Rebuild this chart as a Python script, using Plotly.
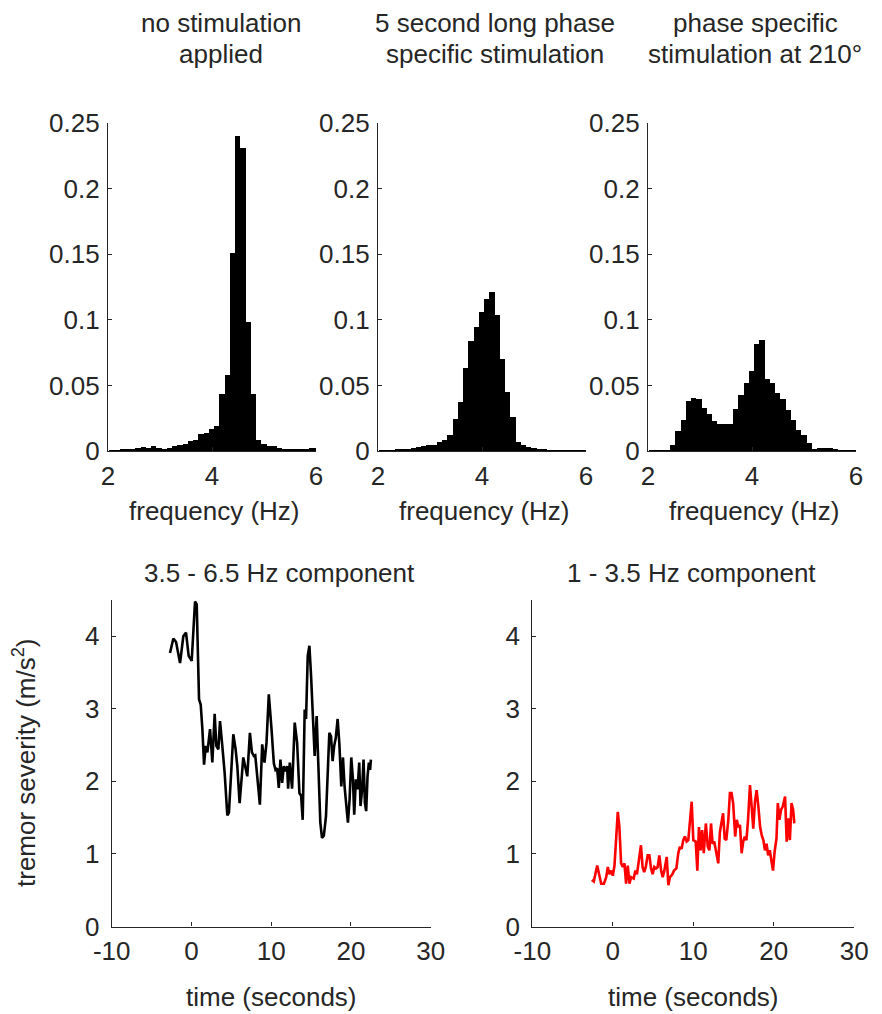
import plotly.graph_objects as go

# ---------------- data ----------------
BIN_START = 2.02
BIN_WIDTH = 0.101

hist_none = [0.0005, 0.0005, 0.001, 0.0013, 0.0015, 0.0023, 0.003, 0.0023, 0.0036, 0.0023,
             0.0018, 0.0023, 0.0038, 0.0048, 0.0056, 0.0074, 0.0087, 0.0132, 0.014, 0.017,
             0.0188, 0.0438, 0.0578, 0.151, 0.240, 0.231, 0.0985, 0.0438, 0.0081, 0.0056,
             0.0036, 0.0036, 0.0025, 0.0018, 0.0013, 0.001, 0.001, 0.0013, 0.0023, 0.0023]

hist_long = [0.0005, 0.0005, 0.0005, 0.0008, 0.001, 0.0015, 0.0025, 0.0028, 0.0036, 0.0043,
             0.0043, 0.0069, 0.0087, 0.012, 0.0247, 0.0374, 0.0629, 0.084, 0.0947, 0.106,
             0.116, 0.121, 0.104, 0.0705, 0.045, 0.026, 0.0069, 0.0048, 0.003, 0.0023,
             0.0013, 0.001, 0.0005, 0.0005, 0.0005, 0.0005, 0.0005, 0.0005, 0.0005, 0.0005]

hist_210 = [0.0003, 0.0003, 0.0003, 0.0003, 0.0048, 0.0153, 0.0239, 0.038, 0.0407, 0.040,
            0.0328, 0.0285, 0.0229, 0.0204, 0.0204, 0.0209, 0.0323, 0.0425, 0.052, 0.061,
            0.0815, 0.0845, 0.0547, 0.052, 0.0443, 0.040, 0.031, 0.0234, 0.0163, 0.012,
            0.0064, 0.0018, 0.0023, 0.0025, 0.0025, 0.0015, 0.0005, 0.0005, 0.0005, 0.0005]

t_high = [-2.69, -2.27, -1.93, -1.43, -1.02, -0.68, -0.35, 0.03, 0.45, 0.66,
          0.95, 1.16, 1.37, 1.58, 1.79, 2.0, 2.33, 2.62, 2.91, 3.12,
          3.37, 3.58, 3.87, 4.16, 4.5, 4.7, 5.25, 5.54, 5.75, 6.04,
          6.5, 6.79, 7.0, 7.33, 7.58, 7.83, 8.0, 8.25, 8.58, 8.87,
          9.16, 9.41, 9.7, 10.04, 10.33, 10.54, 10.75, 10.95, 11.16, 11.37,
          11.58, 11.8, 12.0, 12.12, 12.33, 12.62, 12.75, 12.95, 13.25, 13.54,
          13.75, 13.95, 14.2, 14.37, 14.58, 14.79, 15.0, 15.2, 15.45, 15.7,
          15.95, 16.16, 16.37, 16.6, 16.87, 17.08, 17.29, 17.5, 17.7, 17.9,
          18.1, 18.33, 18.54, 18.79, 19.0, 19.2, 19.41, 19.62, 19.83, 20.04,
          20.25, 20.41, 20.62, 20.83, 21.04, 21.2, 21.4, 21.58, 21.75, 21.91,
          22.08, 22.25, 22.4, 22.5]
v_high = [3.77, 3.97, 3.92, 3.63, 4.0, 4.05, 3.73, 3.66, 4.48, 4.44,
          3.13, 3.06, 2.72, 2.23, 2.49, 2.4, 2.72, 2.26, 2.93, 2.49,
          2.44, 2.83, 2.49, 2.12, 1.53, 1.57, 2.65, 2.44, 2.21, 1.70,
          2.33, 2.16, 2.07, 2.67, 2.40, 2.35, 2.36, 2.07, 1.68, 2.51,
          2.26, 2.53, 3.20, 2.72, 2.25, 2.16, 2.18, 1.91, 2.30, 1.98,
          2.21, 2.14, 2.21, 1.90, 2.26, 1.90, 2.35, 2.81, 2.53, 1.84,
          1.80, 1.47, 2.99, 2.86, 3.73, 3.87, 3.45, 3.04, 2.35, 2.90,
          2.03, 1.43, 1.22, 1.25, 1.52, 2.07, 2.67, 2.62, 2.28, 2.49,
          2.6, 2.86, 2.53, 1.93, 2.33, 1.93, 1.61, 1.43, 1.75, 2.33,
          2.03, 1.54, 2.03, 1.89, 2.26, 1.66, 1.89, 2.30, 1.70, 1.59,
          2.07, 2.26, 2.16, 2.30]

t_low = [-2.61, -2.36, -1.94, -1.66, -1.44, -1.1, -0.82, -0.62, -0.41, -0.2,
         0.0, 0.21, 0.41, 0.62, 0.82, 1.03, 1.24, 1.45, 1.65, 1.86,
         2.07, 2.28, 2.6, 2.8, 3.0, 3.2, 3.5, 3.7, 3.9, 4.1,
         4.33, 4.54, 4.75, 4.95, 5.16, 5.37, 5.57, 5.78, 6.0, 6.2,
         6.4, 6.7, 6.9, 7.1, 7.4, 7.6, 7.9, 8.13, 8.34, 8.55,
         8.75, 8.96, 9.17, 9.38, 9.6, 9.8, 10.0, 10.3, 10.5, 10.7,
         10.9, 11.1, 11.3, 11.56, 11.8, 12.0, 12.2, 12.4, 12.6, 12.8,
         13.1, 13.3, 13.5, 13.7, 13.9, 14.1, 14.35, 14.55, 14.75, 14.95,
         15.2, 15.4, 15.6, 15.8, 16.0, 16.2, 16.4, 16.6, 16.8, 17.04,
         17.25, 17.45, 17.66, 17.87, 18.1, 18.3, 18.5, 18.7, 18.9, 19.1,
         19.3, 19.5, 19.7, 19.9, 20.1, 20.33, 20.5, 20.7, 20.9, 21.1,
         21.4, 21.6, 21.8, 22.0, 22.2, 22.4, 22.55]
v_low = [0.64, 0.62, 0.84, 0.70, 0.59, 0.59, 0.68, 0.82, 0.72, 0.77,
         0.70, 0.84, 1.24, 1.58, 1.37, 0.87, 0.82, 0.87, 0.59, 0.84,
         0.59, 0.68, 0.66, 0.77, 0.72, 0.87, 1.12, 0.82, 0.75, 0.82,
         0.98, 0.98, 0.80, 0.72, 0.82, 0.80, 0.82, 0.98, 0.77, 0.68,
         0.77, 0.96, 0.57, 0.68, 0.72, 0.77, 0.80, 1.01, 1.10, 1.07,
         1.19, 1.24, 1.17, 1.19, 1.47, 1.72, 1.19, 1.17, 0.77, 1.37,
         1.05, 1.33, 1.01, 1.42, 1.10, 1.05, 1.42, 1.14, 1.17, 1.03,
         0.87, 1.30, 1.42, 1.56, 1.21, 1.19, 1.47, 1.84, 1.84, 1.70,
         1.24, 1.47, 1.37, 1.40, 1.01, 1.17, 1.24, 1.19, 1.47, 1.95,
         1.65, 1.35, 1.72, 1.88, 1.63, 1.37, 1.26, 1.19, 1.05, 1.14,
         0.98, 1.05, 0.91, 0.77, 1.03, 1.21, 1.70, 1.47, 1.61, 1.65,
         1.79, 1.17, 1.49, 1.19, 1.70, 1.61, 1.42]

hist_titles = [["no stimulation", "applied"],
               ["5 second long phase", "specific stimulation"],
               ["phase specific", "stimulation at 210°"]]
hist_xlabel = "frequency (Hz)"
hist_yticks = [0, 0.05, 0.1, 0.15, 0.2, 0.25]
hist_yticktext = ["0", "0.05", "0.1", "0.15", "0.2", "0.25"]
hist_xticks = [2, 4, 6]

line_titles = ["3.5 - 6.5 Hz component", "1 - 3.5 Hz component"]
line_xlabel = "time (seconds)"
line_ylabel = "tremor severity (m/s<sup>2</sup>)"
line_xticks = [-10, 0, 10, 20, 30]
line_xticktext = ["-10", "0", "10", "20", "30"]
line_yticks = [0, 1, 2, 3, 4]

# ---------------- layout helpers ----------------
# the page body has an 8px margin, so the figure is placed 8px in and
# coordinates below are given in window pixels
OFF = 8
W, H = 882 - OFF, 1014 - OFF
FONT = "Liberation Sans, Arial, Helvetica, sans-serif"
FS = 26
TXT = "#262626"


def px(x):
    return (x - OFF) / W


def py(y):
    return 1 - (y - OFF) / H


bin_centers = [BIN_START + BIN_WIDTH * (i + 0.5) for i in range(len(hist_none))]

fig = go.Figure()

hist_data = [hist_none, hist_long, hist_210]
hist_xdom = [(108, 316), (378, 586), (648, 856)]
hist_ydom = (123, 451)

axis_common = dict(showline=True, linecolor=TXT, linewidth=1.3, ticks="inside",
                   ticklen=4, tickwidth=1.3, tickcolor=TXT, showgrid=False,
                   zeroline=False, mirror=False, automargin=False,
                   tickfont=dict(family=FONT, size=FS, color=TXT))

layout = dict(width=W, height=H, margin=dict(l=0, r=0, t=0, b=0, pad=0),
              paper_bgcolor="white", plot_bgcolor="white", showlegend=False,
              bargap=0, font=dict(family=FONT, size=FS, color=TXT))

for i, h in enumerate(hist_data):
    n = i + 1
    xa = "x" if n == 1 else f"x{n}"
    ya = "y" if n == 1 else f"y{n}"
    fig.add_trace(go.Bar(x=bin_centers, y=h, width=BIN_WIDTH, xaxis=xa, yaxis=ya,
                         marker=dict(color="black", line=dict(width=0))))
    layout[f"xaxis{'' if n == 1 else n}"] = dict(
        axis_common, domain=[px(hist_xdom[i][0]), px(hist_xdom[i][1])],
        range=[2, 6], tickvals=hist_xticks, anchor=ya, ticklabelstandoff=2)
    layout[f"yaxis{'' if n == 1 else n}"] = dict(
        axis_common, domain=[py(hist_ydom[1]), py(hist_ydom[0])],
        range=[0, 0.25], tickvals=hist_yticks, ticktext=hist_yticktext,
        anchor=xa, ticklabelstandoff=2)

line_data = [(t_high, v_high, "black"), (t_low, v_low, "#ff0000")]
line_xdom = [(111.7, 430.7), (532.3, 854.3)]
line_ydom = (600, 926.5)
for j, (t, v, c) in enumerate(line_data):
    n = 4 + j
    xa, ya = f"x{n}", f"y{n}"
    fig.add_trace(go.Scatter(x=t, y=v, mode="lines", xaxis=xa, yaxis=ya,
                             line=dict(color=c, width=2.6)))
    layout[f"xaxis{n}"] = dict(
        axis_common, domain=[px(line_xdom[j][0]), px(line_xdom[j][1])],
        range=[-10, 30], tickvals=line_xticks, ticktext=line_xticktext,
        anchor=ya, ticklabelstandoff=1)
    layout[f"yaxis{n}"] = dict(
        axis_common, domain=[py(line_ydom[1]), py(line_ydom[0])],
        range=[0, 4.5], tickvals=line_yticks, anchor=xa, ticklabelstandoff=6)

ann = []


def add_text(text, x, y, angle=0):
    ann.append(dict(text=text, x=px(x), y=py(y), xref="paper", yref="paper",
                    xanchor="center", yanchor="middle", showarrow=False,
                    textangle=angle, font=dict(family=FONT, size=FS, color=TXT)))


title_cx = [221, 495.5, 755]
for i, lines in enumerate(hist_titles):
    add_text(lines[0], title_cx[i], 23)
    add_text(lines[1], title_cx[i], 54)
for i, (a, b) in enumerate(hist_xdom):
    add_text(hist_xlabel, (a + b) / 2 + 2, 511)

add_text(line_titles[0], 279, 573)
add_text(line_titles[1], 691, 573)
for a, b in line_xdom:
    add_text(line_xlabel, (a + b) / 2, 997)
add_text(line_ylabel, 24, 763, angle=-90)

layout["annotations"] = ann
fig.update_layout(**layout)
fig.write_html("out.html")
